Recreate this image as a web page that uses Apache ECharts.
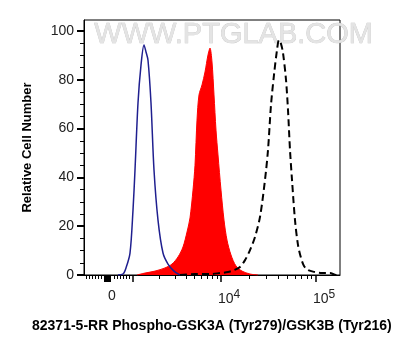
<!DOCTYPE html>
<html><head><meta charset="utf-8">
<script src="https://cdn.jsdelivr.net/npm/echarts@6/dist/echarts.min.js"></script>
<style>html,body{margin:0;padding:0;background:#fff}#c{width:414px;height:356px}</style>
</head><body><div id="c"></div>
<script>
// x values are display channels (0..1024) of the biexponential fluorescence axis
var blueX = [136,156,168,184,196,204,216,228,240,248,256,268,280,296,316,336,360,384];
var blueY = [0,0.4,2.9,9,26.6,43,70.5,86,94.3,91.4,88,70.5,43,22.5,9,4.5,1.6,0];
var redX = [212,244,284,324,352,376,396,412,424,436,444,452,460,472,484,496,504,512,520,528,536,548,560,572,588,608,632,664,696];
var redY = [0,0.8,1.6,2.9,4.5,7.4,11.5,17.6,23.4,34.8,45,63.5,73.8,77.9,83.2,90.2,93,87.3,73.8,59.4,49.2,34.8,22.5,14.3,8.2,3.7,1.6,0.4,0];
var blackX = [384,444,504,544,576,600,624,644,664,684,704,724,736,748,760,772,780,788,796,808,816,824,832,844,856,868,880,896,924,952,984,1008,1024];
var blackY = [0,0.4,0.4,0.8,1.2,2,3.3,6.1,10.2,15.6,23.8,39,51.2,69.7,82,92.2,96.3,94.7,91,80,67.6,51.2,39,22.5,12.3,7,3.7,2,1.2,0.8,0.8,0,0];
// axis ticks / labels
var xLabelValues = [112, 548, 928];
var xLabelTexts = ['0', '10^4', '10^5'];
var xMajorTicks = [196, 548, 928];
var xMinorTicks = [8,20,32,44,56,68,120,132,144,156,168,180,302,364,408,442,470,493,514,532,662,729,777,814,844,869,891,910];
var xZeroBlock = [94];
var yLabelValues = [0,20,40,60,80,100];
var yMinorTicks = [5,10,15,25,30,35,45,50,55,65,70,75,85,90,95];
var yName = 'Relative Cell Number';
var xTitle = '82371-5-RR Phospho-GSK3A (Tyr279)/GSK3B (Tyr216)';
var watermark = 'WWW.PTGLAB.COM';

function zip(a, b) { return a.map(function (v, i) { return [v, b[i]]; }); }
var FONT = '"Liberation Sans", Arial, sans-serif';
var chart = echarts.init(document.getElementById('c'));
var xBase = { type: 'value', min: 0, max: 1024, position: 'bottom', offset: 0, splitLine: { show: false } };
chart.setOption({
  animation: false,
  grid: { left: 84, right: 74, top: 20, bottom: 81, show: true, borderColor: '#000', borderWidth: 1 },
  graphic: [{
    type: 'text', left: 94, top: 20, z: 0,
    style: { text: watermark, font: '29px ' + FONT, fill: '#e4e4e4', stroke: '#c2c2c2', lineWidth: 0.6 }
  }, {
    type: 'text', left: 32, top: 319,
    style: { text: xTitle, font: 'bold 14px ' + FONT, fill: '#000' }
  }],
  xAxis: [
    Object.assign({}, xBase, {
      axisLine: { lineStyle: { color: '#000', width: 1 } },
      axisTick: { customValues: xMajorTicks, length: 7, lineStyle: { color: '#000', width: 1.5 } },
      axisLabel: {
        customValues: xLabelValues, margin: 14, color: '#222', fontFamily: FONT, fontSize: 14,
        formatter: function (v) {
          var t = xLabelTexts[xLabelValues.indexOf(v)];
          if (t === undefined) return '';
          if (t.indexOf('^') < 0) return '{b|' + t + '}';
          var p = t.split('^');
          return '{pad| }{b|' + p[0] + '}{sup|' + p[1] + '}';
        },
        rich: {
          b: { fontSize: 14, fontFamily: FONT, color: '#222' },
          sup: { fontSize: 12, fontFamily: FONT, color: '#222', padding: [0, 0, 9, 0] },
          pad: { width: 16, fontSize: 14 }
        }
      }
    }),
    Object.assign({}, xBase, {
      axisLine: { show: false }, axisLabel: { show: false },
      axisTick: { customValues: xMinorTicks, length: 4, lineStyle: { color: '#000', width: 1 } }
    }),
    Object.assign({}, xBase, {
      axisLine: { show: false }, axisLabel: { show: false },
      axisTick: { customValues: xZeroBlock, length: 7, lineStyle: { color: '#000', width: 7 } }
    })
  ],
  yAxis: [{
    type: 'value', min: 0, max: 104.5, position: 'left', offset: 0, splitLine: { show: false },
    name: yName, nameLocation: 'middle', nameGap: 50,
    nameTextStyle: { fontFamily: FONT, fontWeight: 'bold', fontSize: 13, color: '#000' },
    axisLine: { show: true, lineStyle: { color: '#000', width: 1 } },
    axisTick: { customValues: yLabelValues, length: 7, lineStyle: { color: '#000', width: 2 } },
    axisLabel: { customValues: yLabelValues, margin: 10, color: '#222', fontFamily: FONT, fontSize: 14 }
  }, {
    type: 'value', min: 0, max: 104.5, position: 'left', offset: 0, splitLine: { show: false },
    axisLine: { show: false }, axisLabel: { show: false },
    axisTick: { customValues: yMinorTicks, length: 4, lineStyle: { color: '#000', width: 1 } }
  }],
  series: [{
    type: 'line', data: zip(redX, redY), showSymbol: false, smooth: 0.3, z: 2,
    lineStyle: { color: '#ff0000', width: 1 }, areaStyle: { color: '#ff0000', opacity: 1 }
  }, {
    type: 'line', data: zip(blueX, blueY), showSymbol: false, smooth: 0.3, z: 3,
    lineStyle: { color: '#1f1f8f', width: 1.5 }
  }, {
    type: 'line', data: zip(blackX, blackY), showSymbol: false, smooth: 0.3, z: 4,
    lineStyle: { color: '#000', width: 2, type: [7, 4] }
  }]
});
</script></body></html>
